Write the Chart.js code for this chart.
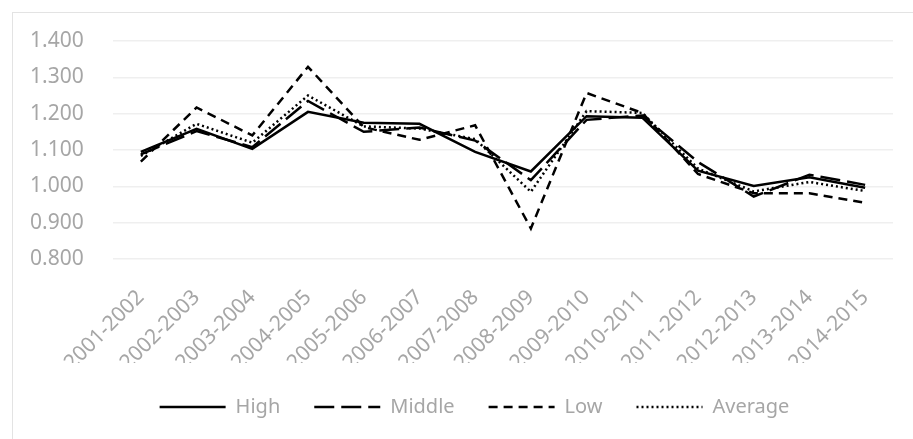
<!DOCTYPE html>
<html>
<head>
<meta charset="utf-8">
<script src="https://cdn.jsdelivr.net/npm/chart.js@4/dist/chart.umd.min.js"></script>
<style>
  html, body { margin: 0; padding: 0; background: #ffffff; overflow: hidden; }
  #frame {
    position: absolute; left: 12px; top: 12px;
    width: 923px; height: 452px;
    border: 1px solid #e3e3e3; background: #ffffff;
  }
  #chart { display: block; }
</style>
</head>
<body>
<div id="frame"><canvas id="chart" width="923" height="452"></canvas></div>
<script>
// Season labels along the x axis
const seasons = [
  '2001-2002', '2002-2003', '2003-2004', '2004-2005', '2005-2006', '2006-2007', '2007-2008',
  '2008-2009', '2009-2010', '2010-2011', '2011-2012', '2012-2013', '2013-2014', '2014-2015'
];

// Index values per income group
const high    = [1.095, 1.158, 1.103, 1.205, 1.175, 1.172, 1.095, 1.041, 1.193, 1.189, 1.043, 1.001, 1.025, 0.996];
const middle  = [1.088, 1.152, 1.108, 1.235, 1.150, 1.162, 1.126, 1.017, 1.183, 1.195, 1.067, 0.972, 1.032, 1.004];
const low     = [1.068, 1.217, 1.140, 1.329, 1.163, 1.128, 1.168, 0.884, 1.257, 1.202, 1.034, 0.981, 0.981, 0.955];
const average = [1.084, 1.172, 1.120, 1.250, 1.165, 1.159, 1.130, 0.985, 1.207, 1.202, 1.049, 0.986, 1.012, 0.987];

// Value axis range and step
const yMin = 0.8;
const yMax = 1.4;
const yStep = 0.1;

const grey = '#a6a6a6';
const fontFamily = '"Noto Sans", "Open Sans", sans-serif';

function series(label, data, dash) {
  return {
    label: label,
    data: data,
    borderColor: '#000000',
    backgroundColor: '#000000',
    borderWidth: 2.5,
    borderDash: dash,
    pointRadius: 0,
    pointHoverRadius: 0,
    tension: 0,
    fill: false
  };
}

// Legend entries drawn as short strokes in each series' own dash pattern
function lineLegendLabels(chart) {
  const items = Chart.defaults.plugins.legend.labels.generateLabels(chart);
  items.forEach(function (item) {
    const ds = chart.data.datasets[item.datasetIndex];
    item.pointStyle = 'line';
    item.lineDash = ds.borderDash;
    item.lineWidth = ds.borderWidth;
    item.strokeStyle = ds.borderColor;
    item.fillStyle = ds.borderColor;
    item.lineCap = 'butt';
  });
  return items;
}

new Chart(document.getElementById('chart'), {
  type: 'line',
  data: {
    labels: seasons,
    datasets: [
      series('High', high, []),
      series('Middle', middle, [20, 7]),
      series('Low', low, [9, 6]),
      series('Average', average, [2, 3])
    ]
  },
  options: {
    responsive: false,
    animation: false,
    layout: { autoPadding: false, padding: { top: 28, left: 17, right: 17, bottom: 38 } },
    plugins: {
      tooltip: { enabled: false },
      legend: {
        position: 'bottom',
        labels: {
          usePointStyle: true,
          pointStyle: 'line',
          pointStyleWidth: 66,
          boxHeight: 20,
          padding: 34,
          color: grey,
          font: { family: fontFamily, size: 20 },
          generateLabels: lineLegendLabels
        }
      }
    },
    scales: {
      x: {
        offset: true,
        grid: { display: false, drawTicks: false },
        border: { display: false },
        afterFit: function (scale) { scale.height = 104; },
        ticks: {
          autoSkip: false,
          minRotation: 45,
          maxRotation: 45,
          padding: 26,
          color: grey,
          font: { family: fontFamily, size: 21 }
        }
      },
      y: {
        min: yMin,
        max: yMax,
        afterFit: function (scale) { scale.width = 83; },
        grid: { color: '#efefef', lineWidth: 1.5, drawTicks: false },
        border: { display: false },
        ticks: {
          stepSize: yStep,
          padding: 0,
          crossAlign: 'far',
          color: grey,
          font: { family: fontFamily, size: 21 },
          callback: function (v) { return Number(v).toFixed(3); }
        }
      },
      // empty right-hand margin beside the plot
      margin: {
        type: 'linear',
        position: 'right',
        min: yMin,
        max: yMax,
        afterFit: function (scale) { scale.width = 26; },
        grid: { display: false, drawTicks: false },
        border: { display: false },
        ticks: { display: false }
      }
    }
  }
});
</script>
</body>
</html>
